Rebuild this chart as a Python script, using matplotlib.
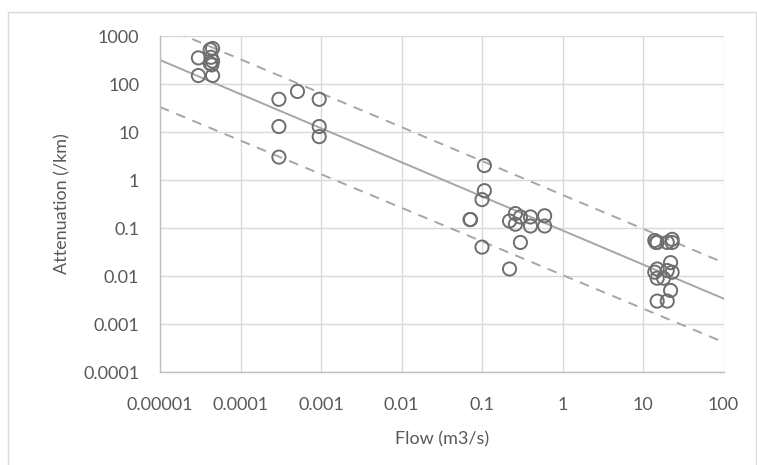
import numpy as np
import matplotlib
matplotlib.use('Agg')
import matplotlib.pyplot as plt
from matplotlib.patches import Rectangle
from matplotlib.ticker import FixedLocator, FixedFormatter, NullLocator

plt.rcParams['font.family'] = ['Lato', 'DejaVu Sans']

# 散点数据 (流量 m3/s, 衰减 /km)
flow = [3.0e-5, 3.0e-5, 4.2e-5, 4.5e-5, 4.3e-5, 4.2e-5, 4.5e-5, 4.5e-5, 4.4e-5,
        3.0e-4, 5.1e-4, 9.5e-4, 3.0e-4, 9.5e-4, 9.5e-4, 3.0e-4,
        0.107, 0.107, 0.10, 0.071, 0.072, 0.10, 0.22, 0.26, 0.30, 0.22, 0.26,
        0.40, 0.40, 0.60, 0.60, 0.30,
        14, 14.5, 15, 20, 23, 23, 22, 14, 15, 20, 23, 15, 18, 22, 15, 20]
attenuation = [350, 150, 520, 550, 360, 270, 300, 150, 250,
               48, 70, 48, 13, 13, 8, 3,
               2.0, 0.6, 0.39, 0.15, 0.15, 0.04, 0.014, 0.2, 0.17, 0.14, 0.12,
               0.17, 0.11, 0.18, 0.11, 0.05,
               0.055, 0.05, 0.05, 0.05, 0.058, 0.05, 0.019, 0.012, 0.014, 0.013,
               0.012, 0.009, 0.009, 0.005, 0.003, 0.003]

# 幂律拟合线 y = a * x^b
fit_a, fit_b = 0.089, -0.71
upper_a, upper_b = 0.49, -0.706
lower_a, lower_b = 0.0105, -0.70

x_ticks = [1e-5, 1e-4, 1e-3, 1e-2, 1e-1, 1, 10, 100]
x_labels = ['0.00001', '0.0001', '0.001', '0.01', '0.1', '1', '10', '100']
y_ticks = [1e-4, 1e-3, 1e-2, 1e-1, 1, 10, 100, 1000]
y_labels = ['0.0001', '0.001', '0.01', '0.1', '1', '10', '100', '1000']

text_color = '#595959'
line_color = '#a6a6a6'
grid_color = '#d9d9d9'

fig = plt.figure(figsize=(7.57, 4.65), dpi=100)
ax = fig.add_axes([160 / 757, 1 - 372 / 465, (723.5 - 160) / 757, (372 - 36) / 465])

xx = np.logspace(-5, 2, 200)
ax.plot(xx, fit_a * xx ** fit_b, color=line_color, lw=1.4, zorder=2)
ax.plot(xx, upper_a * xx ** upper_b, color=line_color, lw=1.4, ls=(0, (5, 4)), zorder=2)
ax.plot(xx, lower_a * xx ** lower_b, color=line_color, lw=1.4, ls=(0, (5, 4)), zorder=2)

ax.scatter(flow, attenuation, s=90, facecolors='none', edgecolors='#6e6e6e',
           linewidths=1.4, zorder=3)

ax.set_xscale('log')
ax.set_yscale('log')
ax.set_xlim(1e-5, 100)
ax.set_ylim(1e-4, 1000)
ax.xaxis.set_major_locator(FixedLocator(x_ticks))
ax.xaxis.set_major_formatter(FixedFormatter(x_labels))
ax.xaxis.set_minor_locator(NullLocator())
ax.yaxis.set_major_locator(FixedLocator(y_ticks))
ax.yaxis.set_major_formatter(FixedFormatter(y_labels))
ax.yaxis.set_minor_locator(NullLocator())

ax.grid(True, color=grid_color, lw=1.0, zorder=0)
ax.set_axisbelow(True)
for side in ['top', 'right']:
    ax.spines[side].set_visible(False)
for side in ['left', 'bottom']:
    ax.spines[side].set_color('#bfbfbf')
    ax.spines[side].set_linewidth(1.0)

ax.tick_params(axis='both', length=0, labelsize=13, colors=text_color)
ax.tick_params(axis='x', pad=18)
ax.tick_params(axis='y', pad=15)

ax.set_xlabel('Flow (m3/s)', fontsize=13, color=text_color, labelpad=13)
ax.set_ylabel('Attenuation (/km)', fontsize=13, color=text_color, labelpad=9)

# 图表外框
fig.patches.append(Rectangle((8 / 757, -0.05), (756 - 8) / 757, 1.05 - 12 / 465,
                             transform=fig.transFigure, fill=False,
                             edgecolor=grid_color, lw=1.0))

fig.savefig('out.png', dpi=100)
